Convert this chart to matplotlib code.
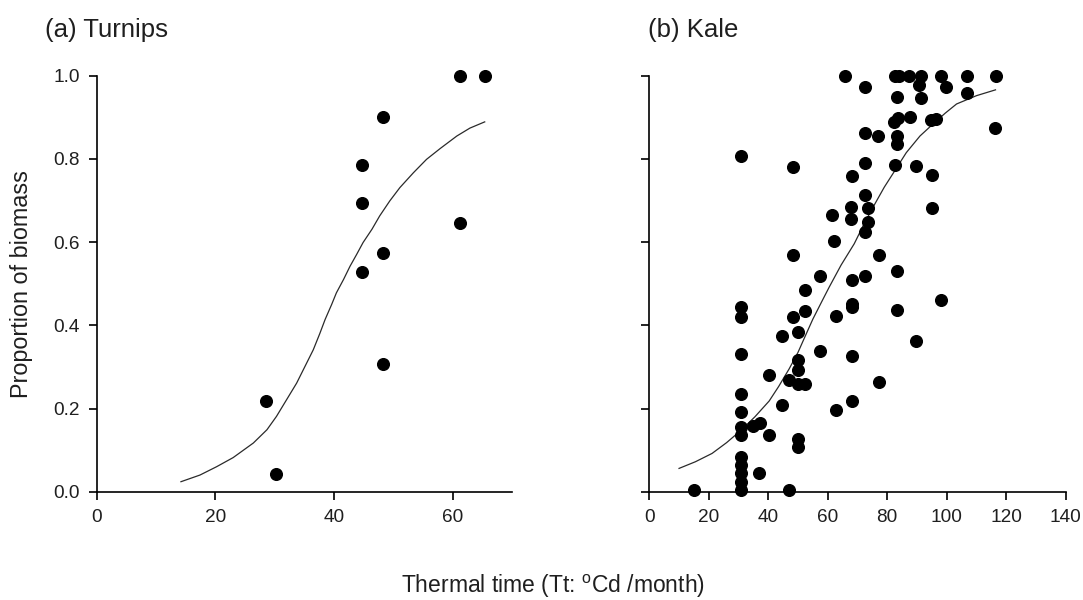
import matplotlib
matplotlib.use("Agg")
import matplotlib.pyplot as plt

plt.rcParams['font.family'] = ['Liberation Sans', 'DejaVu Sans']
plt.rcParams['mathtext.fontset'] = 'custom'
plt.rcParams['mathtext.rm'] = 'Liberation Sans'

# ---------------- data ----------------
turnip_x = [28.5, 30.2, 44.7, 44.7, 44.7, 48.2, 48.2, 48.2, 61.2, 61.2, 65.4]
turnip_y = [0.217, 0.042, 0.786, 0.695, 0.528, 0.900, 0.574, 0.308, 1.0, 0.646, 1.0]

turnip_curve_x = [14.2, 17.4, 20.2, 23.0, 26.4, 28.7, 30.3, 32.0, 33.7, 35.1, 36.5, 37.6, 38.5,
                  39.6, 40.4, 41.6, 42.7, 43.8, 44.9, 46.4, 47.7, 49.4, 51.1, 53.4, 55.6,
                  57.9, 60.7, 62.9, 65.4]
turnip_curve_y = [0.024, 0.040, 0.060, 0.082, 0.117, 0.149, 0.181, 0.221, 0.261, 0.301, 0.341, 0.380, 0.414,
                  0.450, 0.478, 0.510, 0.542, 0.570, 0.599, 0.631, 0.663, 0.699, 0.731, 0.767, 0.799,
                  0.825, 0.855, 0.874, 0.889]

kale_x = [15.1, 30.8, 30.8, 30.8, 30.8, 30.8, 30.8, 30.8, 30.8, 30.8, 30.8, 30.8, 30.8, 30.9,
          37.0, 34.9, 37.2, 40.3, 40.3, 44.7, 44.7, 47.0, 47.0, 48.4, 48.4, 48.4,
          50.1, 50.1, 50.1, 50.1, 50.1, 50.1, 52.3, 52.3, 52.3, 57.4, 57.4, 61.5, 62.2, 62.7, 62.7, 65.7,
          68.0, 67.8, 67.8, 68.0, 68.0, 68.0, 68.0, 68.0,
          72.5, 72.5, 72.5, 72.5, 73.6, 73.6, 72.5, 72.5,
          76.8, 77.2, 77.2,
          82.5, 84.0, 83.4, 83.6, 82.4, 83.4, 83.4, 82.6, 83.4, 83.4,
          87.4, 87.5,
          91.2, 90.8, 91.2, 89.8, 89.8,
          94.8, 96.3, 94.9, 94.9,
          98.0, 99.7, 98.0,
          106.9, 106.8,
          116.4, 116.3]
kale_y = [0.004, 0.004, 0.024, 0.044, 0.064, 0.084, 0.136, 0.156, 0.191, 0.236, 0.330, 0.419, 0.443, 0.807,
          0.046, 0.158, 0.164, 0.136, 0.280, 0.374, 0.208, 0.004, 0.268, 0.420, 0.568, 0.781,
          0.384, 0.316, 0.292, 0.258, 0.126, 0.108, 0.484, 0.434, 0.258, 0.518, 0.338, 0.665, 0.603, 0.422, 0.196, 1.0,
          0.758, 0.684, 0.655, 0.508, 0.452, 0.444, 0.326, 0.218,
          0.972, 0.862, 0.790, 0.714, 0.682, 0.648, 0.624, 0.518,
          0.856, 0.568, 0.264,
          1.0, 1.0, 0.948, 0.898, 0.888, 0.854, 0.836, 0.786, 0.530, 0.436,
          1.0, 0.900,
          1.0, 0.978, 0.946, 0.782, 0.362,
          0.894, 0.896, 0.762, 0.682,
          1.0, 0.974, 0.462,
          1.0, 0.958,
          1.0, 0.874]

kale_curve_x = [10.0, 15.5, 21.1, 26.0, 30.9, 35.5, 40.3, 43.5, 47.0, 50.0, 52.3, 55.0, 58.2, 60.5,
                64.5, 68.9, 72.3, 75.7, 79.0, 82.4, 86.4, 91.0, 95.4, 99.5, 103.3, 110.0, 116.4]
kale_curve_y = [0.056, 0.072, 0.092, 0.118, 0.148, 0.180, 0.218, 0.253, 0.295, 0.335, 0.372, 0.415, 0.460, 0.492,
                0.545, 0.596, 0.645, 0.690, 0.732, 0.770, 0.815, 0.855, 0.884, 0.910, 0.932, 0.952, 0.966]

turnip_xticks = [0, 20, 40, 60]
kale_xticks = [0, 20, 40, 60, 80, 100, 120, 140]
yticks = [0.0, 0.2, 0.4, 0.6, 0.8, 1.0]

TXT = '#1f1f1f'

fig = plt.figure(figsize=(10.83, 6.0), dpi=100)
W, H = 1083.0, 600.0

ax1 = fig.add_axes([96.7 / W, 108.3 / H, (512 - 96.7) / W, (491.7 - 75.7) / H])
ax2 = fig.add_axes([649.3 / W, 108.3 / H, (1065.7 - 649.3) / W, (491.7 - 75.7) / H])


def style(ax, xmax, xticks, show_ylabels):
    ax.set_xlim(0, xmax)
    ax.set_ylim(0, 1.0)
    for s in ['top', 'right']:
        ax.spines[s].set_visible(False)
    for s in ['left', 'bottom']:
        ax.spines[s].set_linewidth(1.2)
        ax.spines[s].set_color('black')
    ax.set_xticks(xticks)
    ax.set_yticks(yticks)
    ax.set_xticklabels([str(t) for t in xticks])
    if show_ylabels:
        ax.set_yticklabels(['%.1f' % t for t in yticks])
    else:
        ax.set_yticklabels([])
    ax.tick_params(direction='out', length=5.8, width=1.2, labelsize=13.7,
                   labelcolor=TXT, color='black')
    ax.tick_params(axis='x', pad=6.5)
    ax.tick_params(axis='y', pad=6.5)


ax1.plot(turnip_curve_x, turnip_curve_y, color='#2a2a2a', lw=0.9, zorder=2)
ax1.plot(turnip_x, turnip_y, 'o', color='black', ms=8.4, clip_on=False, zorder=3)
style(ax1, 70, turnip_xticks, True)

ax2.plot(kale_curve_x, kale_curve_y, color='#2a2a2a', lw=0.9, zorder=2)
ax2.plot(kale_x, kale_y, 'o', color='black', ms=8.4, clip_on=False, zorder=3)
style(ax2, 140, kale_xticks, False)

fig.text(45 / W, 1 - 37.3 / H, '(a) Turnips', fontsize=18.5, color=TXT,
         ha='left', va='baseline')
fig.text(648 / W, 1 - 37.3 / H, '(b) Kale', fontsize=18.5, color=TXT,
         ha='left', va='baseline')
fig.text(22 / W, 1 - 284 / H, 'Proportion of biomass', fontsize=16.8, color=TXT,
         rotation=90, ha='center', va='center')
fig.text(552.5 / W, 1 - 593.5 / H, r'Thermal time (Tt: $^{\mathrm{o}}$Cd /month)',
         fontsize=16.5, color=TXT, ha='center', va='baseline')

fig.savefig('out.png', dpi=100)
